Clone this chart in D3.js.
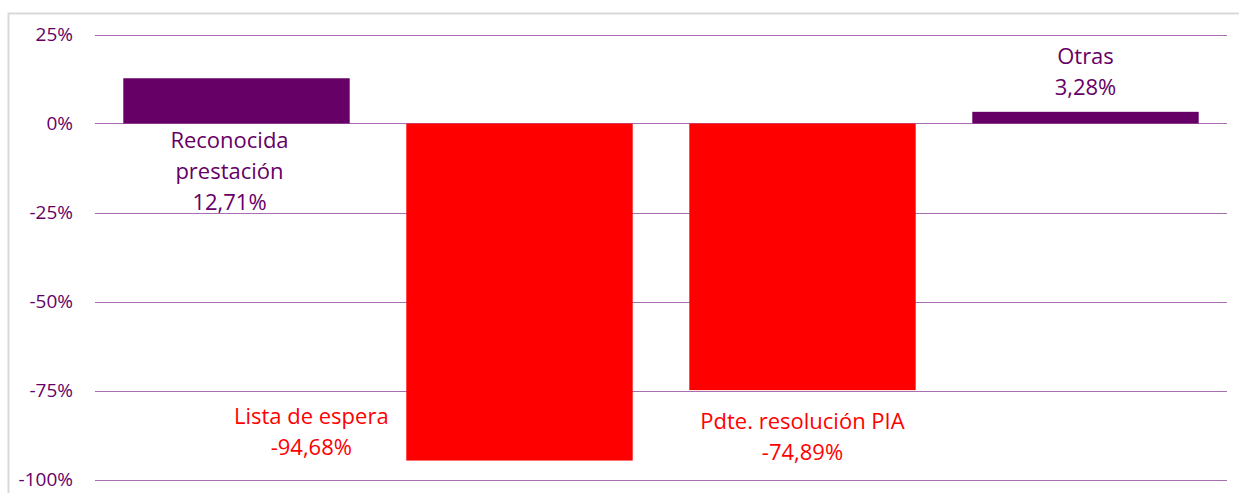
<!DOCTYPE html>
<html>
<head>
<meta charset="utf-8">
<script src="https://cdn.jsdelivr.net/npm/d3@7"></script>
<style>
  body { margin: 0; background: #fff; }
  svg { display: block; font-family: "Open Sans", sans-serif; }
</style>
</head>
<body>
<svg id="chart" width="1239" height="493"></svg>
<script>
// data
const categories = ["Reconocida prestación", "Lista de espera", "Pdte. resolución PIA", "Otras"];
const values = [12.71, -94.68, -74.89, 3.28];
const labelLines = [["Reconocida", "prestación"], ["Lista de espera"], ["Pdte. resolución PIA"], ["Otras"]];
const valueLabels = ["12,71%", "-94,68%", "-74,89%", "3,28%"];
const yTicks = [25, 0, -25, -50, -75, -100];

const purple = "#660066";
const red = "#ff0000";

const svg = d3.select("#chart");

// outer chart border (cropped at right/bottom like the screenshot)
svg.append("rect")
  .attr("x", 8.5).attr("y", 13.5)
  .attr("width", 1300).attr("height", 600)
  .attr("fill", "none")
  .attr("stroke", "#d9d9d9")
  .attr("stroke-width", 2);

const left = 95, right = 1227;
const y = d3.scaleLinear().domain([-100, 25]).range([479.5, 34.5]);
const x = d3.scaleBand().domain(categories).range([left, right]).paddingInner(0.2).paddingOuter(0.1);

// gridlines
svg.append("g")
  .selectAll("line")
  .data(yTicks)
  .join("line")
  .attr("x1", left).attr("x2", right)
  .attr("y1", d => Math.round(y(d)) + 0.5).attr("y2", d => Math.round(y(d)) + 0.5)
  .attr("stroke", "#a870b0")
  .attr("stroke-width", 1.2);

// y axis labels
svg.append("g")
  .selectAll("text")
  .data(yTicks)
  .join("text")
  .attr("x", 73)
  .attr("y", d => y(d))
  .attr("dy", "0.35em")
  .attr("text-anchor", "end")
  .attr("fill", purple)
  .attr("font-size", 19)
  .text(d => d + "%");

const color = v => v >= 0 ? purple : red;

// bars
svg.append("g")
  .selectAll("rect")
  .data(categories)
  .join("rect")
  .attr("x", d => x(d))
  .attr("width", x.bandwidth())
  .attr("y", (d, i) => y(Math.max(0, values[i])))
  .attr("height", (d, i) => Math.abs(y(values[i]) - y(0)))
  .attr("fill", (d, i) => color(values[i]));

// data labels: positioned relative to the bars
const lineH = 31;
const labelPos = [
  // [x center, first line y center]
  { cx: x(categories[0]) + x.bandwidth() / 2 - 7, cy: y(0) + 17 },
  { cx: x(categories[1]) - 95, cy: y(-75) + 26 },
  { cx: x(categories[2]) + x.bandwidth() / 2, cy: y(-75) + 31 },
  { cx: x(categories[3]) + x.bandwidth() / 2, cy: y(values[3]) - 56 }
];

const lab = svg.append("g")
  .selectAll("text")
  .data(categories)
  .join("text")
  .attr("text-anchor", "middle")
  .attr("fill", (d, i) => color(values[i]))
  .attr("font-size", 22);

lab.each(function (d, i) {
  const t = d3.select(this);
  const lines = labelLines[i].concat([valueLabels[i]]);
  lines.forEach((s, j) => {
    t.append("tspan")
      .attr("x", labelPos[i].cx)
      .attr("y", labelPos[i].cy + j * lineH)
      .attr("dy", "0.35em")
      .text(s);
  });
});
</script>
</body>
</html>
